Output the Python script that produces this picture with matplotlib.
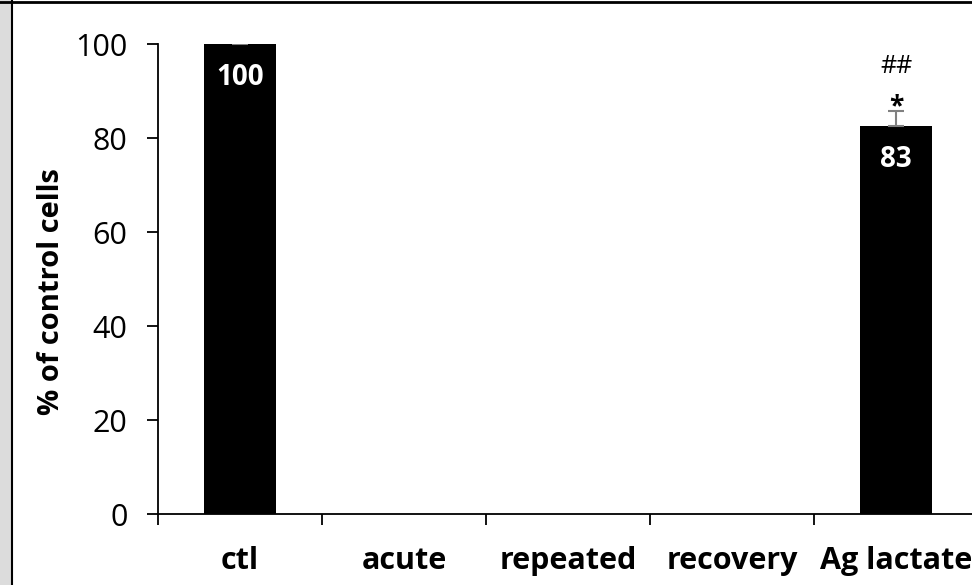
import matplotlib
matplotlib.use("Agg")
import matplotlib.pyplot as plt
from matplotlib.patches import Rectangle
from matplotlib.lines import Line2D

# données
categories = ["ctl", "acute", "repeated", "recovery", "Ag lactate"]
values = [100, None, None, None, 82.6]
errors = [0.3, None, None, None, 3.2]
bar_labels = ["100", "", "", "", "83"]
star_marks = ["", "", "", "", "*"]
hash_marks = ["", "", "", "", "##"]

plt.rcParams['font.family'] = ['Open Sans', 'DejaVu Sans']

fig = plt.figure(figsize=(9.72, 5.85), dpi=100)
ax = fig.add_axes([158 / 972, 71 / 585, 820 / 972, 470 / 585])

x = list(range(len(categories)))
xs = [i for i, v in zip(x, values) if v is not None]
vs = [v for v in values if v is not None]
es = [e for e in errors if e is not None]

ax.bar(xs, vs, width=0.44, color="black", zorder=2)
ax.errorbar(xs, vs, yerr=[[0] * len(es), es], fmt="none", ecolor="#808080",
            elinewidth=1.5, capsize=6, capthick=1.5, zorder=3)

for i, v, e, lab, st, hs in zip(x, values, errors, bar_labels, star_marks, hash_marks):
    if v is None:
        continue
    ax.annotate(lab, (i, v), xytext=(0, -24), textcoords="offset points",
                ha="center", va="center", color="white", fontsize=20, fontweight="bold")
    if st:
        ax.annotate(st, (i, v + e), xytext=(0, 3), textcoords="offset points",
                    ha="center", va="center", fontsize=19, fontweight="bold")
    if hs:
        ax.annotate(hs, (i, v + e), xytext=(0, 32), textcoords="offset points",
                    ha="center", va="center", fontsize=18)

ax.set_xlim(-0.5, len(categories) - 0.5)
ax.set_ylim(0, 100)
ax.set_yticks(range(0, 101, 20))
ax.set_xticks([i - 0.5 for i in range(len(categories) + 1)])
ax.set_xticklabels([])
ax.set_xticks(x, minor=True)
ax.set_xticklabels(categories, minor=True, fontsize=22, fontweight="bold")
ax.tick_params(axis="x", which="major", direction="out", length=8, width=1.3)
ax.tick_params(axis="x", which="minor", length=0, pad=23)
ax.tick_params(axis="y", direction="out", length=8, width=1.3, labelsize=22, pad=14)

for s in ["top", "right"]:
    ax.spines[s].set_visible(False)
for s in ["left", "bottom"]:
    ax.spines[s].set_linewidth(1.3)

ax.set_ylabel("% of control cells", fontsize=21, fontweight="bold")
ax.yaxis.set_label_coords(-0.112, 0.474)

# cadre autour de la figure
fig.add_artist(Rectangle((0, 0), 11 / 972, 1, transform=fig.transFigure,
                         facecolor="#dcdcdc", edgecolor="none"))
fig.add_artist(Line2D([11.5 / 972, 11.5 / 972], [0, 1], transform=fig.transFigure,
                      color="black", lw=1.5))
fig.add_artist(Line2D([0, 1], [1 - 1.5 / 585, 1 - 1.5 / 585], transform=fig.transFigure,
                      color="black", lw=2))

fig.savefig("out.png", dpi=100)
